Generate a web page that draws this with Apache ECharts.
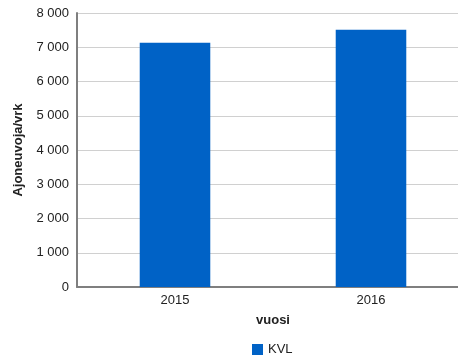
<!DOCTYPE html>
<html><head><meta charset="utf-8">
<script src="https://cdn.jsdelivr.net/npm/echarts@6/dist/echarts.min.js"></script>
<style>html,body{margin:0;padding:0;background:#fff;overflow:hidden;width:458px;height:360px}#c{width:480px;height:360px}</style>
</head><body><div id="c"></div>
<script>
var categories = ['2015', '2016'];
var kvl = [7130, 7510];
var seriesName = 'KVL';
var yTicks = [0, 1000, 2000, 3000, 4000, 5000, 6000, 7000, 8000];

var chart = echarts.init(document.getElementById('c'), null, {renderer: 'canvas'});
function fmt(v){ return String(v).replace(/\B(?=(\d{3})+(?!\d))/g, ' '); }
var FF = 'Liberation Sans, Arial, sans-serif';
chart.setOption({
  animation: false,
  textStyle: {fontFamily: FF},
  grid: {left: 77, top: 13, width: 392, height: 274, containLabel: false},
  legend: {
    data: [seriesName], left: 247, top: 338, itemWidth: 11, itemHeight: 11, itemGap: 8,
    icon: 'rect', textStyle: {fontSize: 13, color: '#222', fontFamily: FF}
  },
  xAxis: {
    type: 'category', data: categories,
    name: 'vuosi', nameLocation: 'middle', nameGap: 27,
    nameTextStyle: {fontWeight: 'bold', fontSize: 13, color: '#222'},
    axisLine: {lineStyle: {color: '#7f7f7f', width: 2}},
    axisTick: {show: false},
    axisLabel: {fontSize: 13, color: '#222', margin: 7}
  },
  yAxis: {
    type: 'value', min: yTicks[0], max: yTicks[yTicks.length-1], interval: 1000,
    name: 'Ajoneuvoja/vrk', nameLocation: 'middle', nameGap: 52,
    nameTextStyle: {fontWeight: 'bold', fontSize: 13, color: '#222'},
    axisLine: {show: true, lineStyle: {color: '#7f7f7f', width: 2}},
    axisTick: {show: false},
    splitLine: {lineStyle: {color: '#d0d0d0', width: 1}},
    axisLabel: {fontSize: 13, color: '#222', margin: 8, formatter: fmt}
  },
  series: [{
    name: seriesName, type: 'bar', data: kvl, barWidth: '36%',
    itemStyle: {color: '#0062c6'}
  }]
});
</script></body></html>
